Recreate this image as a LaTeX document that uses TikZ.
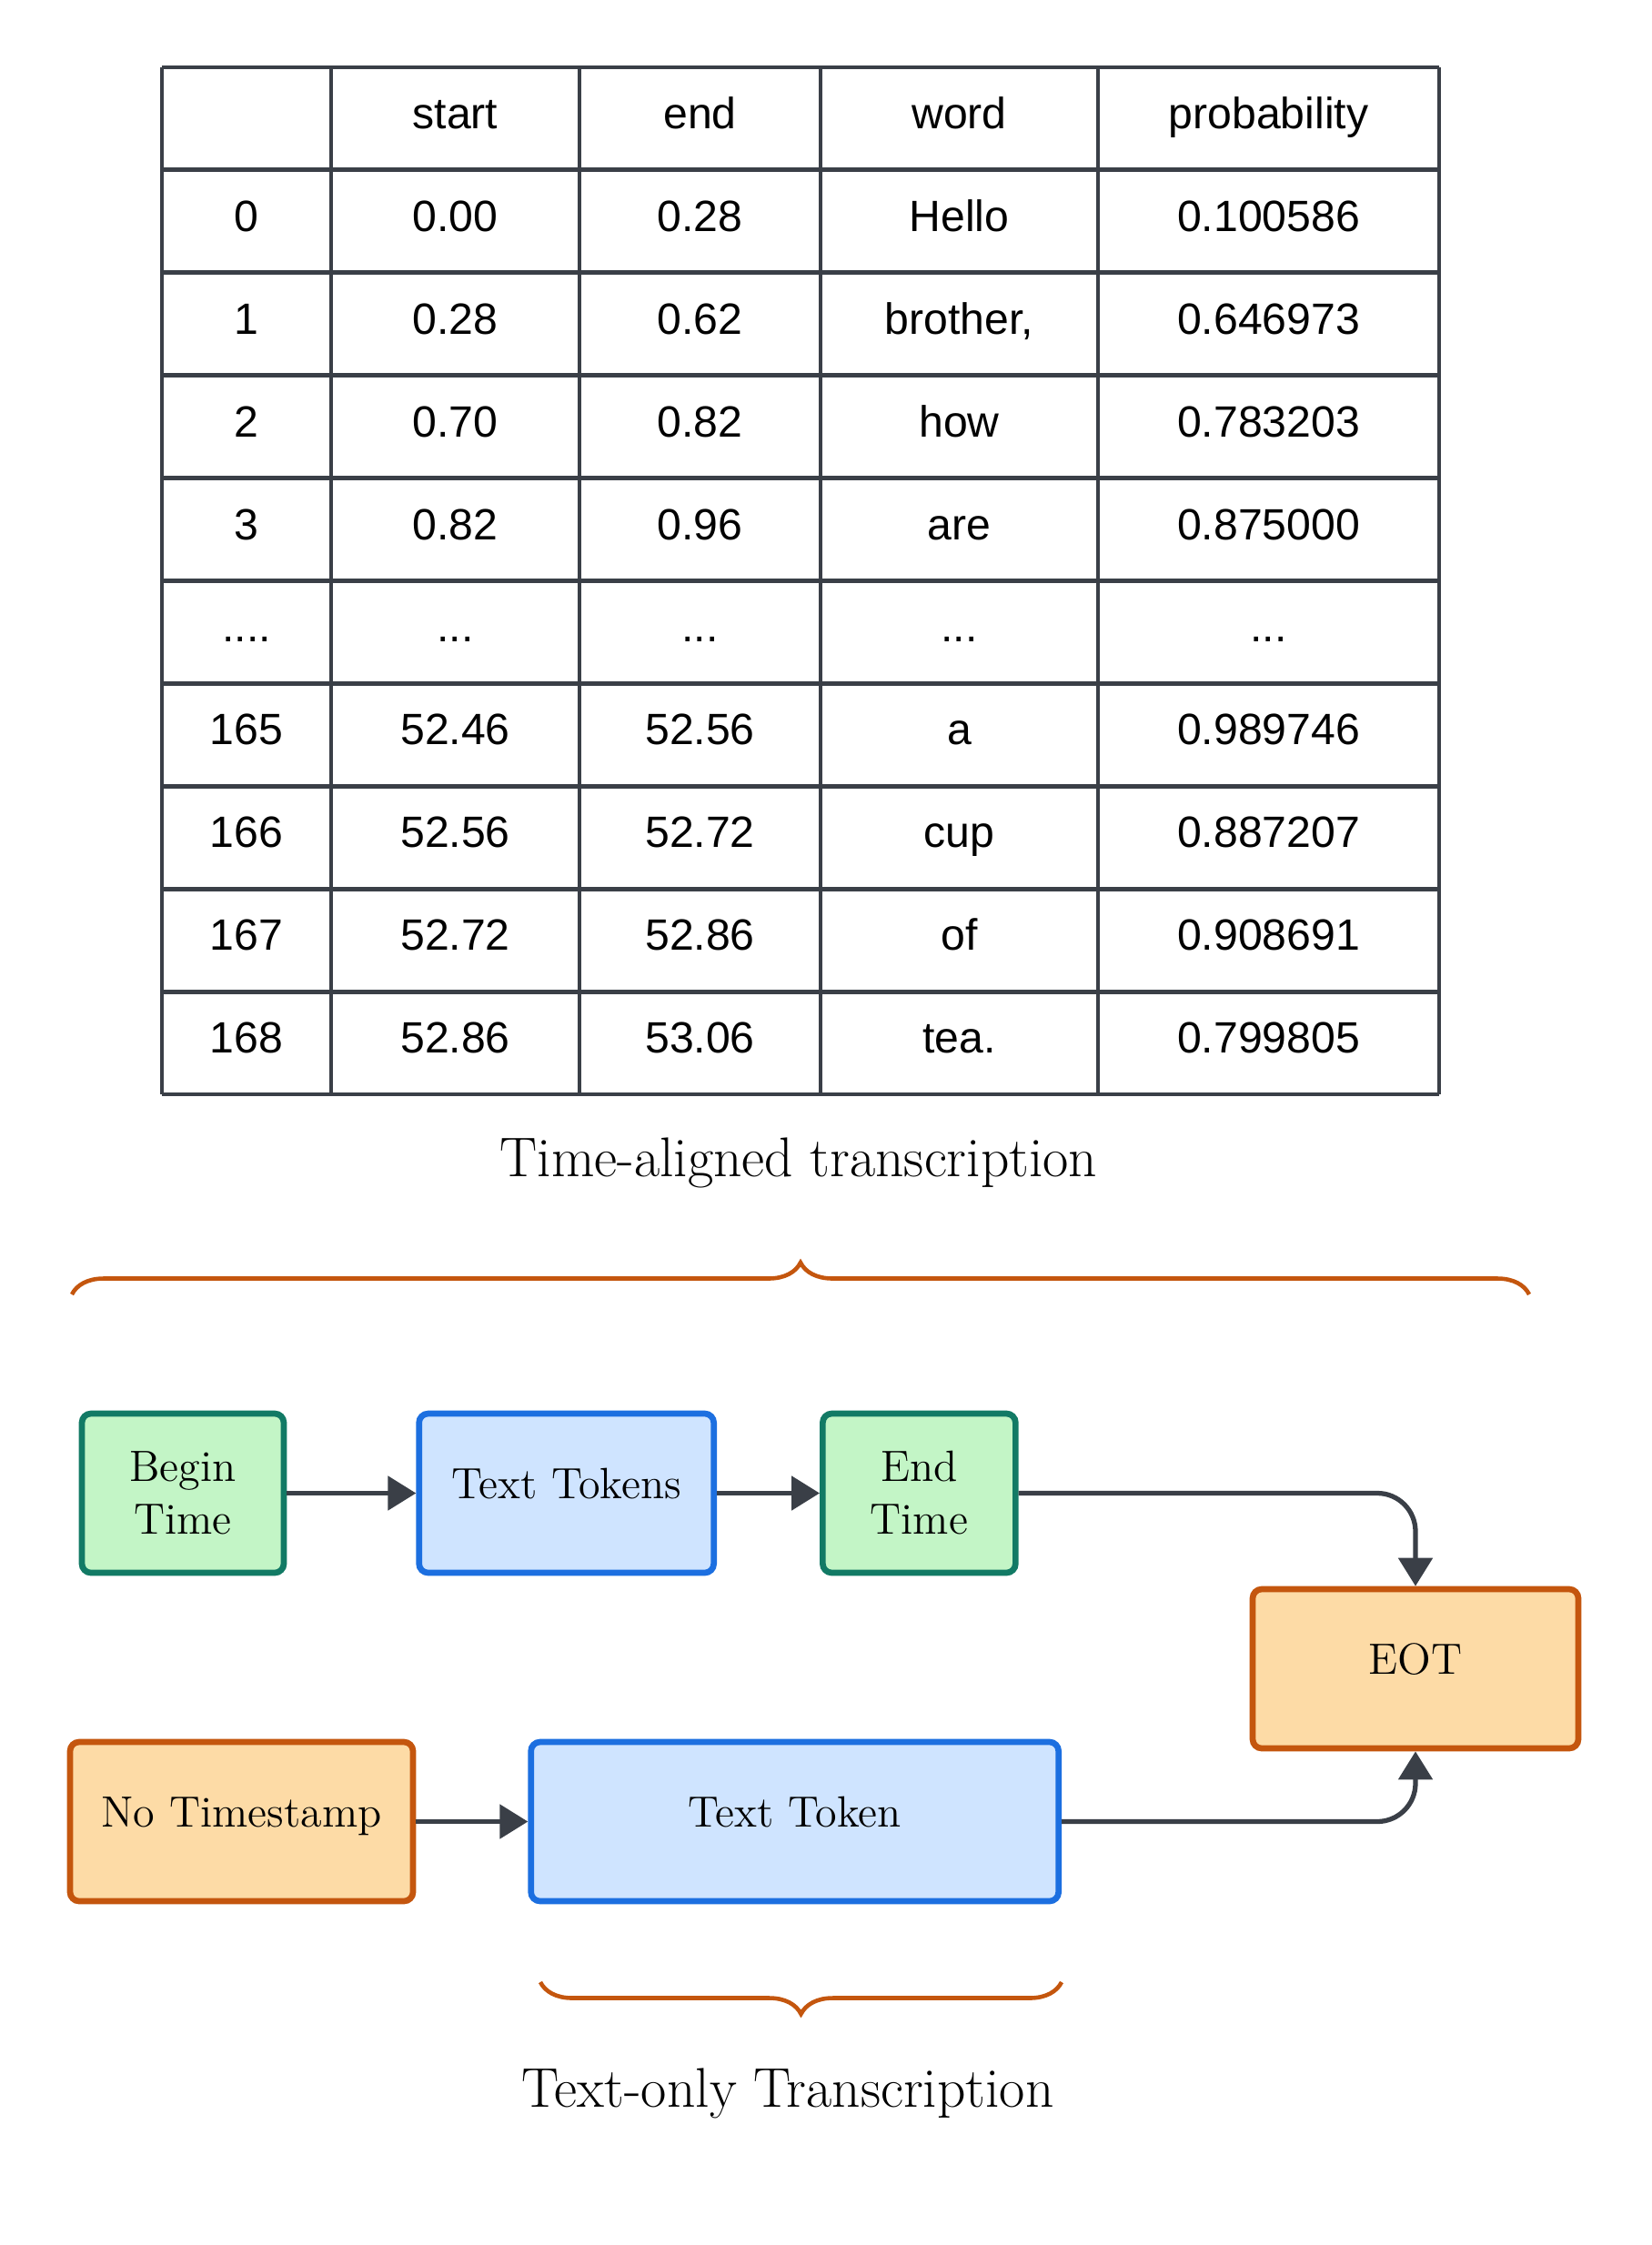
\documentclass[tikz,border=0pt]{standalone}
\usepackage{fontspec}
\newfontfamily\tabfont{Liberation Sans}
\usepackage{xcolor}
\usepackage{tikz}
\usetikzlibrary{positioning, arrows.meta, calc, decorations.pathreplacing}

\definecolor{gridgray}{HTML}{3A3F47}
\definecolor{greenfill}{HTML}{C3F5C6}
\definecolor{greenline}{HTML}{127A65}
\definecolor{bluefill}{HTML}{CFE4FF}
\definecolor{blueline}{HTML}{1C6FE0}
\definecolor{orangefill}{HTML}{FDDBA6}
\definecolor{orangeline}{HTML}{C4560E}

\tikzset{
  cell/.style={font=\tabfont\fontsize{13.7}{16}\selectfont, text height=0.35cm, text depth=0cm, inner sep=0pt},
  dotcell/.style={font=\tabfont\fontsize{13.7}{16}\selectfont, inner sep=0pt},
  box/.style={line width=1.9pt, rounded corners=0.1cm, minimum height=1.75cm, align=center,
    font=\fontsize{13.7}{16.5}\selectfont},
  oneline/.style={text height=0.33cm, text depth=0.22cm},
  timebox/.style={box, draw=greenline, fill=greenfill},
  tokbox/.style={box, oneline, draw=blueline, fill=bluefill},
  eotbox/.style={box, oneline, draw=orangeline, fill=orangefill},
  flow/.style={draw=gridgray, line width=1.5pt, -{Triangle[length=0.31cm, width=0.37cm]}},
  curly/.style={draw=orangeline, line width=1.3pt, decorate, decoration={brace, amplitude=0.35cm}},
  caption/.style={font=\fontsize{17.5}{20}\selectfont}
}

\begin{document}
\begin{tikzpicture}
\fill[white] (0,0) rectangle (18.15,-24.68);
\useasboundingbox (0,0) rectangle (18.15,-24.68);

% table grid
\foreach \x in {1.78,3.64,6.37,9.02,12.07,15.82}
  \draw[gridgray, line width=1.4pt] (\x,-0.74) -- (\x,-12.03);
\foreach \k in {0,...,10}
  \draw[gridgray, line width=1.4pt] (1.78,{-0.74-1.129*\k}) -- (15.82,{-0.74-1.129*\k});

% header
\node[cell](hstart) at (5.005,-1.24){start};
\node[cell](hend) at (7.695,-1.24){end};
\node[cell](hword) at (10.545,-1.24){word};
\node[cell](hprob) at (13.945,-1.24){probability};

% rows
\foreach \k/\n/\s/\e/\w/\p in {1/0/0.00/0.28/Hello/0.100586, 2/1/0.28/0.62/{brother,}/0.646973,
  3/2/0.70/0.82/how/0.783203, 4/3/0.82/0.96/are/0.875000, 6/165/52.46/52.56/a/0.989746,
  7/166/52.56/52.72/cup/0.887207, 8/167/52.72/52.86/of/0.908691, 9/168/52.86/53.06/tea./0.799805}
{
  \node[cell](idx\k) at (2.71,{-1.24-1.129*\k}){\n};
  \node[cell](start\k) at (5.005,{-1.24-1.129*\k}){\s};
  \node[cell](end\k) at (7.695,{-1.24-1.129*\k}){\e};
  \node[cell](word\k) at (10.545,{-1.24-1.129*\k}){\w};
  \node[cell](prob\k) at (13.945,{-1.24-1.129*\k}){\p};
}
\node[dotcell](dots1) at (2.71,-7.03){....};
\node[dotcell](dots2) at (5.005,-7.03){...};
\node[dotcell](dots3) at (7.695,-7.03){...};
\node[dotcell](dots4) at (10.545,-7.03){...};
\node[dotcell](dots5) at (13.945,-7.03){...};

\node[caption](timecap) at (8.78,-12.78){Time-aligned transcription};
\draw[curly] (0.79,-14.23) -- (16.81,-14.23);

% tokens
\node[timebox, minimum width=2.22cm](begin) at (2.01,-16.415){Begin\\Time};
\node[tokbox, minimum width=3.24cm](tokens)[right = 1.42cm of begin]{Text Tokens};
\node[timebox, minimum width=2.12cm](endt)[right = 1.13cm of tokens]{End\\Time};
\node[eotbox, minimum width=3.58cm](eot) at (15.56,-18.345){EOT};
\node[eotbox, minimum width=3.77cm](nots) at (2.655,-20.025){No Timestamp};
\node[tokbox, minimum width=5.80cm](token)[right = 1.23cm of nots]{Text Token};

\draw[flow] (begin) -- (tokens);
\draw[flow] (tokens) -- (endt);
\draw[flow, rounded corners=0.42cm] (endt.east) -| (eot.north);
\draw[flow] (nots) -- (token);
\draw[flow, rounded corners=0.42cm] (token.east) -| (eot.south);

\draw[curly] (11.67,-21.79) -- (5.94,-21.79);
\node[caption](textcap) at (8.66,-23.01){Text-only Transcription};
\end{tikzpicture}
\end{document}
